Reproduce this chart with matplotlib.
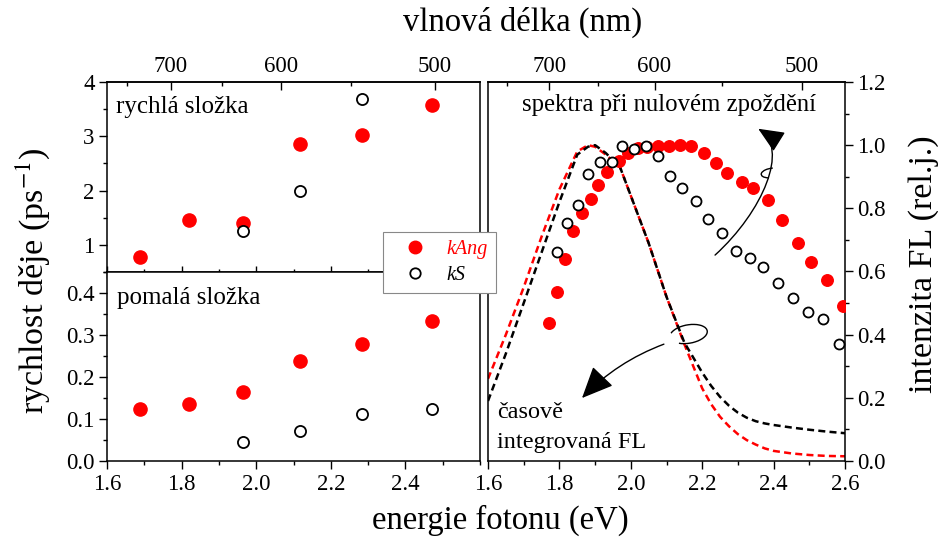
import numpy as np
import matplotlib
matplotlib.use('Agg')
import matplotlib.pyplot as plt
from matplotlib.patches import FancyArrowPatch, Arc
from matplotlib.path import Path
from matplotlib.lines import Line2D
from matplotlib.ticker import MultipleLocator, FixedLocator, FormatStrFormatter

plt.rcParams['font.family'] = ['Liberation Serif', 'DejaVu Serif']
plt.rcParams['mathtext.fontset'] = 'stix'

HC = 1239.84
RED = '#ff0000'

# rychlostni konstanty (eV, ps^-1)
rate_e = [1.688, 1.819, 1.964, 2.117, 2.284, 2.470]
fast_kang = [0.785, 1.46, 1.41, 2.86, 3.03, 3.57]
fast_ks_e = [1.964, 2.117, 2.284]
fast_ks = [1.26, 2.00, 3.69]
slow_kang = [0.125, 0.135, 0.164, 0.238, 0.278, 0.333]
slow_ks_e = [1.964, 2.117, 2.284, 2.470]
slow_ks = [0.046, 0.071, 0.111, 0.125]

# spektra pri nulovem zpozdeni
spec_ang_e = [1.772, 1.794, 1.816, 1.839, 1.864, 1.888, 1.909, 1.934, 1.967, 1.993,
              2.019, 2.044, 2.075, 2.107, 2.138, 2.169, 2.206, 2.239, 2.270, 2.311,
              2.343, 2.383, 2.424, 2.468, 2.505, 2.550, 2.594]
spec_ang = [0.436, 0.536, 0.638, 0.728, 0.784, 0.830, 0.874, 0.916, 0.951, 0.975,
            0.990, 0.995, 0.998, 0.998, 1.000, 0.998, 0.976, 0.943, 0.911, 0.884,
            0.865, 0.826, 0.763, 0.689, 0.631, 0.573, 0.491]
spec_s_e = [1.794, 1.822, 1.853, 1.881, 1.914, 1.947, 1.976, 2.010, 2.043, 2.077,
            2.110, 2.144, 2.183, 2.217, 2.256, 2.294, 2.334, 2.371, 2.413, 2.454,
            2.497, 2.539, 2.584]
spec_s = [0.663, 0.755, 0.811, 0.909, 0.946, 0.948, 0.998, 0.988, 0.998, 0.966,
          0.902, 0.865, 0.823, 0.766, 0.721, 0.666, 0.644, 0.615, 0.565, 0.517,
          0.471, 0.450, 0.369]

# casove integrovana FL
ss_e = [1.60, 1.65, 1.70, 1.75, 1.80, 1.85, 1.88, 1.90, 1.93, 1.97, 2.00, 2.05,
        2.10, 2.15, 2.20, 2.225, 2.25, 2.275, 2.30, 2.325, 2.35, 2.375, 2.40,
        2.45, 2.50, 2.55, 2.60]
ss_ang = [0.26, 0.40, 0.55, 0.71, 0.86, 0.98, 1.00, 0.995, 0.97, 0.93, 0.84, 0.69,
          0.52, 0.37, 0.23, 0.18, 0.14, 0.11, 0.085, 0.066, 0.052, 0.040, 0.032,
          0.024, 0.019, 0.016, 0.015]
ss_s = [0.19, 0.34, 0.50, 0.66, 0.82, 0.97, 0.995, 1.00, 0.975, 0.93, 0.84, 0.69,
        0.52, 0.375, 0.28, 0.238, 0.203, 0.175, 0.153, 0.137, 0.126, 0.119, 0.114,
        0.106, 0.099, 0.093, 0.088]

nm_major = [700, 600, 500]
nm_minor = [750, 650, 550]

TICK = 16.5
LAB = 23.5


def ev2nm(x):
    x = np.asarray(x, dtype=float)
    with np.errstate(divide='ignore'):
        return HC / x


def style_ax(ax):
    for s in ax.spines.values():
        s.set_linewidth(1.1)
    ax.tick_params(which='major', length=5.5, width=1.0, labelsize=TICK)
    ax.tick_params(which='minor', length=3.0, width=1.0)
    ax.set_xlim(1.6, 2.6)
    ax.xaxis.set_minor_locator(MultipleLocator(0.1))


def add_top(ax):
    sec = ax.secondary_xaxis('top', functions=(ev2nm, ev2nm))
    sec.xaxis.set_major_locator(FixedLocator(nm_major))
    sec.xaxis.set_minor_locator(FixedLocator(nm_minor))
    sec.xaxis.set_major_formatter(FormatStrFormatter('%d'))
    sec.tick_params(which='major', direction='in', length=5.5, width=1.0, labelsize=TICK)
    sec.tick_params(which='minor', direction='in', length=3.0, width=1.0)
    sec.spines['top'].set_linewidth(1.1)
    return sec


fig = plt.figure(figsize=(9.38, 5.47), dpi=100)
x0, x1 = 107 / 938, 480 / 938
yb, ym, yt = 1 - 461 / 547, 1 - 272 / 547, 1 - 82 / 547
ax_top = fig.add_axes([x0, ym, x1 - x0, yt - ym])
ax_bot = fig.add_axes([x0, yb, x1 - x0, ym - yb])
rx0, rx1 = 488 / 938, 845 / 938
ax_r = fig.add_axes([rx0, yb, rx1 - rx0, yt - yb])

# horni panel - rychla slozka
style_ax(ax_top)
ax_top.plot(rate_e, fast_kang, 'o', color=RED, ms=9.5, mec=RED, zorder=3)
ax_top.plot(fast_ks_e, fast_ks, 'o', mfc='white', mec='black', mew=1.3, ms=8, zorder=4)
ax_top.set_ylim(0.5, 4)
ax_top.yaxis.set_major_locator(MultipleLocator(1))
ax_top.yaxis.set_minor_locator(MultipleLocator(0.5))
ax_top.set_xticks([1.6, 1.8, 2.0, 2.2, 2.4])
ax_top.tick_params(axis='x', which='both', direction='inout', labelbottom=False, top=False)
ax_top.tick_params(axis='x', which='major', length=8)
ax_top.tick_params(axis='x', which='minor', length=5)
ax_top.tick_params(axis='y', which='both', direction='out', right=False)
ax_top.text(1.624, 3.54, 'rychlá složka', fontsize=18, va='center', ha='left')
add_top(ax_top)

# dolni panel - pomala slozka
style_ax(ax_bot)
ax_bot.plot(rate_e, slow_kang, 'o', color=RED, ms=9.5, mec=RED, zorder=3)
ax_bot.plot(slow_ks_e, slow_ks, 'o', mfc='white', mec='black', mew=1.3, ms=8, zorder=4)
ax_bot.set_ylim(0, 0.45)
ax_bot.yaxis.set_major_locator(MultipleLocator(0.1))
ax_bot.yaxis.set_minor_locator(MultipleLocator(0.05))
ax_bot.yaxis.set_major_formatter(FormatStrFormatter('%.1f'))
ax_bot.set_xticks([1.6, 1.8, 2.0, 2.2, 2.4])
ax_bot.xaxis.set_major_formatter(FormatStrFormatter('%.1f'))
ax_bot.tick_params(which='both', direction='out', top=False, right=False)
ax_bot.text(1.626, 0.388, 'pomalá složka', fontsize=18, va='center', ha='left')

# pravy panel - spektra
style_ax(ax_r)
ax_r.plot(ss_e, ss_ang, '--', color=RED, lw=1.8, dashes=(2.8, 1.7), zorder=2)
ax_r.plot(ss_e, ss_s, '--', color='black', lw=1.8, dashes=(2.8, 1.7), zorder=2)
ax_r.plot(spec_ang_e, spec_ang, 'o', color=RED, ms=8.3, mec=RED, zorder=3)
ax_r.plot(spec_s_e, spec_s, 'o', mfc='white', mec='black', mew=1.3, ms=7.2, zorder=4)
ax_r.set_ylim(0, 1.2)
ax_r.yaxis.set_major_locator(MultipleLocator(0.2))
ax_r.yaxis.set_minor_locator(MultipleLocator(0.1))
ax_r.yaxis.set_major_formatter(FormatStrFormatter('%.1f'))
ax_r.xaxis.set_major_formatter(FormatStrFormatter('%.1f'))
ax_r.tick_params(which='both', direction='out', top=False, left=False,
                 right=True, labelleft=False, labelright=True)
add_top(ax_r)

ax_r.text(2.107, 1.127, 'spektra při nulovém zpoždění', fontsize=17.8, ha='center', va='center')
ax_r.text(1.625, 0.152, 'časově', fontsize=17.5, ha='left', va='center')
ax_r.text(1.625, 0.057, 'integrovaná FL', fontsize=17.5, ha='left', va='center')

# sipka ke spektrum
p = Path([(2.236, 0.652), (2.37, 0.79), (2.445, 0.99), (2.357, 1.052)],
         [Path.MOVETO, Path.CURVE4, Path.CURVE4, Path.CURVE4])
ax_r.add_patch(FancyArrowPatch(path=p, arrowstyle='-|>,head_length=0.8,head_width=0.35',
                               mutation_scale=20, color='black', lw=1.0, zorder=5))
ax_r.add_patch(Arc((2.395, 0.912), 0.06, 0.03, angle=10, theta1=70, theta2=230,
                   color='black', lw=1.0, zorder=5))

# sipka k integrovane FL
ax_r.add_patch(Arc((2.162, 0.402), 0.106, 0.058, angle=12, theta1=215, theta2=165,
                   color='black', lw=1.0, zorder=5))
ax_r.annotate('', xy=(1.858, 0.193), xytext=(2.10, 0.373),
              arrowprops=dict(arrowstyle='-|>,head_length=0.9,head_width=0.4',
                              mutation_scale=22, color='black', lw=1.0,
                              connectionstyle='arc3,rad=0.12'), zorder=5)

# legenda
handles = [Line2D([], [], ls='none', marker='o', color=RED, ms=9),
           Line2D([], [], ls='none', marker='o', mfc='white', mec='black', mew=1.3, ms=7.5)]
leg = fig.legend(handles, ['kAng', 'kS'], loc='upper left',
                 bbox_to_anchor=(383 / 938, 1 - 232 / 547), borderaxespad=0,
                 fancybox=False, edgecolor='#888888', framealpha=1,
                 prop={'style': 'italic', 'size': 14.5}, borderpad=0.4,
                 handlelength=2.4, handletextpad=0.35, labelspacing=0.35)
leg.get_frame().set_linewidth(0.8)
leg.get_texts()[0].set_color(RED)
leg.set_zorder(10)

fig.text(500 / 938, 1 - 520 / 547, 'energie fotonu (eV)', fontsize=LAB, ha='center', va='center')
fig.text(523 / 938, 1 - 22 / 547, 'vlnová délka (nm)', fontsize=LAB, ha='center', va='center')
fig.text(33 / 938, 1 - 281 / 547, 'rychlost děje (ps$^{-1}$)', fontsize=24.5,
         rotation=90, ha='center', va='center')
fig.text(924 / 938, 1 - 264 / 547, 'intenzita FL (rel.j.)', fontsize=24.5,
         rotation=90, ha='center', va='center')

fig.savefig('out.png', dpi=100)
